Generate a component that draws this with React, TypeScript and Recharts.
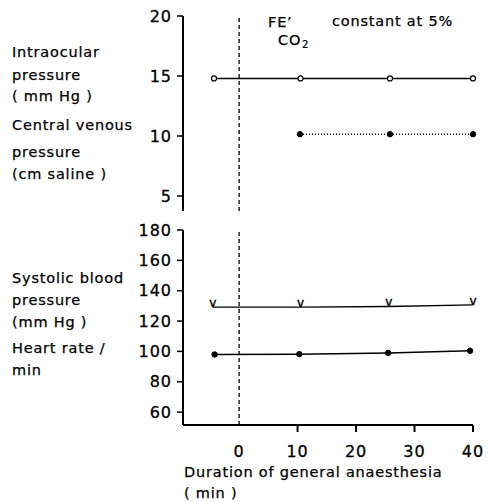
import React from 'react';
import { LineChart, Line, XAxis, YAxis, ReferenceLine } from 'recharts';

// ---- data ----
const iopTime = [-4.3, 10.5, 25.8, 40];
const iopValues = [14.8, 14.8, 14.8, 14.8];
const cvpTime = [10.4, 25.8, 40];
const cvpValues = [10.15, 10.15, 10.15];
const sbpTime = [-4.5, 10.5, 25.6, 40];
const sbpValues = [129.2, 129.2, 129.6, 130.6];
const hrTime = [-4.2, 10.3, 25.5, 39.5];
const hrValues = [98, 98.2, 99, 100.4];
const xTicks = [0, 10, 20, 30, 40];
const topTicks = [5, 10, 15, 20];
const bottomTicks = [60, 80, 100, 120, 140, 160, 180];

const toPts = (xs: number[], ys: number[]) => xs.map((x, i) => ({ x, y: ys[i] }));
const iopData = toPts(iopTime, iopValues);
const cvpData = toPts(cvpTime, cvpValues);
const sbpData = toPts(sbpTime, sbpValues);
const hrData = toPts(hrTime, hrValues);

const LABEL_FONT = '"DejaVu Sans", sans-serif';
const tickStyle = { fontSize: 16, fill: '#000', fontFamily: LABEL_FONT, letterSpacing: 1, stroke: '#000', strokeWidth: 0.3 };

const VDot = (props: any) => {
  const { cx, cy } = props;
  if (cx == null || cy == null) return null;
  return (
    <text x={cx} y={cy} textAnchor="middle" fontSize={12} fontFamily={LABEL_FONT} fill="#000" stroke="#000" strokeWidth={0.4}>
      v
    </text>
  );
};

const XTick = (props: any) => {
  const { x, y, payload } = props;
  return (
    <g>
      {payload.value !== 0 && (
        <line x1={x} x2={x} y1={y - 15} y2={y - 8} stroke="#000" strokeWidth={2} />
      )}
      <text x={x} y={y + 17} textAnchor="middle" fontSize={16} fontFamily={LABEL_FONT} letterSpacing={1} fill="#000" stroke="#000" strokeWidth={0.3}>
        {payload.value}
      </text>
    </g>
  );
};

const axisLine = { stroke: '#000', strokeWidth: 2 };
const tickLine = { stroke: '#000', strokeWidth: 1.5 };

const labels: { t: string; x: number; y: number }[] = [
  { t: 'Intraocular', x: 12, y: 57 },
  { t: 'pressure', x: 12, y: 80 },
  { t: '( mm Hg )', x: 12, y: 101 },
  { t: 'Central venous', x: 12, y: 130 },
  { t: 'pressure', x: 12, y: 157 },
  { t: '(cm saline )', x: 12, y: 179 },
  { t: 'Systolic blood', x: 12, y: 283 },
  { t: 'pressure', x: 12, y: 305 },
  { t: '(mm Hg )', x: 12, y: 327 },
  { t: 'Heart rate /', x: 12, y: 353 },
  { t: 'min', x: 12, y: 375 },
  { t: 'Duration of general anaesthesia', x: 184, y: 477 },
  { t: '( min )', x: 184, y: 498 },
];

const textProps = {
  fontSize: 14.5,
  fontFamily: LABEL_FONT,
  letterSpacing: 0.8,
  fill: '#000',
  stroke: '#000',
  strokeWidth: 0.25,
};

export default function App() {
  return (
    <div style={{ position: 'absolute', left: 0, top: 0, width: 488, height: 502, background: '#fff' }}>
      <div style={{ position: 'absolute', left: 0, top: 0 }}>
        <LineChart width={488} height={220} margin={{ top: 16, right: 15, bottom: 9, left: 0 }}>
          <XAxis
            type="number"
            dataKey="x"
            domain={[-9.6, 40]}
            height={0}
            tick={false}
            tickLine={false}
            axisLine={axisLine}
          />
          <YAxis
            type="number"
            dataKey="y"
            domain={[3.75, 20]}
            ticks={topTicks}
            interval={0}
            width={183}
            tickSize={6}
            tickMargin={5}
            tick={tickStyle}
            axisLine={axisLine}
            tickLine={tickLine}
          />
          <ReferenceLine x={0} stroke="#000" strokeWidth={1.3} strokeDasharray="4 3" />
          <Line
            data={iopData}
            dataKey="y"
            type="linear"
            stroke="#000"
            strokeWidth={1.5}
            dot={{ r: 2.5, fill: '#fff', stroke: '#000', strokeWidth: 1.2 }}
            isAnimationActive={false}
          />
          <Line
            data={cvpData}
            dataKey="y"
            type="linear"
            stroke="#000"
            strokeWidth={1.5}
            strokeDasharray="1 2"
            dot={{ r: 2.7, fill: '#000', stroke: '#000', strokeWidth: 1, strokeDasharray: '' }}
            isAnimationActive={false}
          />
        </LineChart>
      </div>
      <div style={{ position: 'absolute', left: 0, top: 220 }}>
        <LineChart width={488} height={282} margin={{ top: 10, right: 15, bottom: 0, left: 0 }}>
          <XAxis
            type="number"
            dataKey="x"
            domain={[-9.6, 40]}
            ticks={xTicks}
            interval={0}
            height={77}
            tickSize={7}
            tickMargin={8}
            tickLine={false}
            tick={<XTick />}
            axisLine={axisLine}
          />
          <YAxis
            type="number"
            dataKey="y"
            domain={[51.5, 180]}
            ticks={bottomTicks}
            interval={0}
            width={183}
            tickSize={6}
            tickMargin={5}
            tick={tickStyle}
            axisLine={axisLine}
            tickLine={tickLine}
          />
          <ReferenceLine x={0} stroke="#000" strokeWidth={1.3} strokeDasharray="4 3" />
          <Line
            data={sbpData}
            dataKey="y"
            type="linear"
            stroke="#000"
            strokeWidth={1.3}
            dot={<VDot />}
            isAnimationActive={false}
          />
          <Line
            data={hrData}
            dataKey="y"
            type="linear"
            stroke="#000"
            strokeWidth={1.5}
            dot={{ r: 2.7, fill: '#000', stroke: '#000', strokeWidth: 1 }}
            isAnimationActive={false}
          />
        </LineChart>
      </div>
      <svg
        width={488}
        height={502}
        style={{ position: 'absolute', left: 0, top: 0, pointerEvents: 'none' }}
      >
        {labels.map((l, i) => (
          <text key={i} x={l.x} y={l.y} {...textProps}>
            {l.t}
          </text>
        ))}
        <text x={268} y={27} {...textProps}>
          FE’
        </text>
        <text x={278} y={45} {...textProps}>
          CO
        </text>
        <text x={302} y={48} fontSize={10} fontFamily={LABEL_FONT} fill="#000" stroke="#000" strokeWidth={0.2}>
          2
        </text>
        <text x={332} y={26} {...textProps}>
          constant at 5%
        </text>
      </svg>
    </div>
  );
}
